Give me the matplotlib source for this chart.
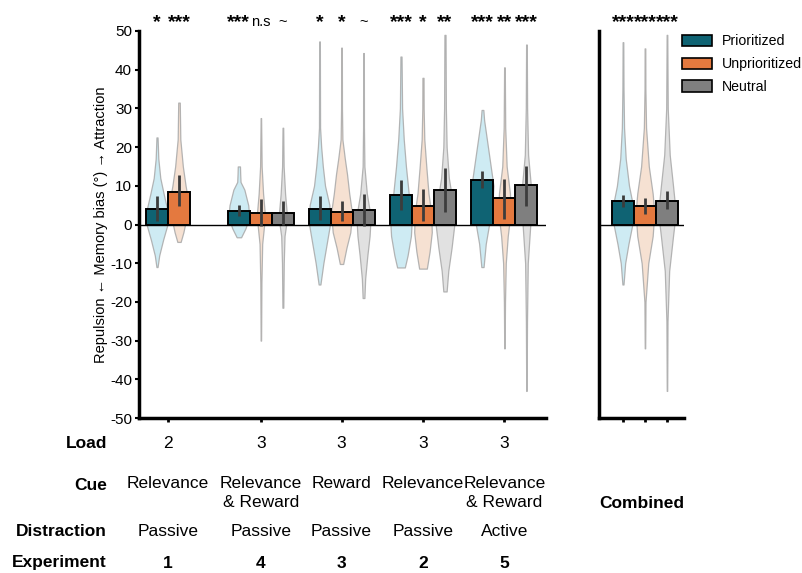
import matplotlib
matplotlib.use("Agg")
import matplotlib.pyplot as plt
import numpy as np
from matplotlib.patches import Patch
from matplotlib.transforms import blended_transform_factory

plt.rcParams['font.family'] = ['Liberation Sans', 'DejaVu Sans']

# --- data -------------------------------------------------------------------
conditions = ['Prioritized', 'Unprioritized', 'Neutral']
experiments = ['1', '4', '3', '2', '5']
loads = ['2', '3', '3', '3', '3']
cues = ['Relevance', 'Relevance\n& Reward', 'Reward', 'Relevance', 'Relevance\n& Reward']
distractions = ['Passive', 'Passive', 'Passive', 'Passive', 'Active']

# bar heights (memory bias, deg); None = condition not in that experiment
prio_mean = [4.1, 3.6, 4.0, 7.5, 11.5]
unprio_mean = [8.5, 3.0, 3.3, 4.7, 6.9]
neutral_mean = [None, 3.0, 3.8, 9.0, 10.3]

prio_ci = [(0.9, 7.4), (2.1, 5.1), (1.1, 7.3), (3.8, 11.4), (9.5, 13.8)]
unprio_ci = [(4.7, 12.8), (-0.4, 6.6), (1.0, 6.1), (0.9, 9.2), (1.5, 11.8)]
neutral_ci = [None, (-0.2, 6.2), (-0.4, 8.0), (3.2, 14.6), (4.8, 15.0)]

prio_stars = ['*', '***', '*', '***', '***']
unprio_stars = ['***', 'n.s', '*', '*', '**']
neutral_stars = [None, '~', '~', '**', '***']

# violin outlines: (bias, relative half width)
prio_violins = [
    [(-11, .05), (-8, .2), (-4, .55), (0, .95), (3, 1.0), (8, .6), (12, .3), (17, .12), (22.5, .05)],
    [(-3.3, .2), (-1, .6), (2, .95), (5, .85), (9, .5), (11, .15), (13, .12), (15, .1)],
    [(-15.5, .08), (-10, .35), (-5, .65), (0, .95), (5, .9), (10, .5), (15, .3), (20, .15), (25, .05), (47.3, .03)],
    [(-11.1, .35), (-8, .6), (-3, .9), (2, 1.0), (8, .7), (15, .45), (22, .25), (30, .1), (43.4, .05)],
    [(-11, .1), (-5, .3), (0, .6), (5, .9), (10, 1.0), (14, .8), (18, .6), (23, .35), (27, .15), (29.6, .08)],
]
unprio_violins = [
    [(-4.5, .15), (-2, .4), (2, .7), (6, .85), (10, .6), (15, .35), (22, .12), (31.5, .07)],
    [(-30, .02), (-15, .05), (-5, .12), (0, .3), (3, .35), (8, .2), (15, .07), (27.5, .02)],
    [(-10.2, .15), (-6, .45), (-2, .8), (3, .95), (8, .7), (13, .5), (17, .3), (22, .08), (30, .04), (45.7, .03)],
    [(-11.4, .35), (-7, .6), (-2, .8), (3, .75), (8, .5), (15, .3), (22, .12), (30, .06), (37.9, .05)],
    [(-32, .02), (-20, .05), (-10, .12), (-3, .3), (3, .55), (8, .5), (15, .2), (25, .07), (40.6, .03)],
]
neutral_violins = [
    None,
    [(-21.5, .04), (-10, .08), (-3, .15), (0, .3), (3, .35), (8, .2), (15, .07), (25, .03)],
    [(-19, .08), (-14, .15), (-8, .35), (-3, .55), (2, .65), (8, .3), (15, .08), (25, .04), (44.3, .03)],
    [(-17.3, .15), (-12, .3), (-6, .6), (0, .85), (5, .75), (12, .35), (20, .15), (30, .08), (49, .05)],
    [(-43, .02), (-25, .05), (-10, .12), (0, .35), (5, .45), (10, .4), (18, .15), (30, .06), (46.5, .03)],
]

combined_mean = [6.0, 4.8, 6.2]
combined_ci = [(4.5, 7.5), (2.8, 6.8), (4.1, 8.6)]
combined_stars = ['***', '***', '***']
combined_violins = [
    [(-15.5, .05), (-10, .2), (-5, .5), (0, .85), (5, .9), (10, .55), (17, .25), (25, .1), (35, .05), (47.1, .03)],
    [(-32, .02), (-20, .05), (-10, .3), (-3, .7), (3, .85), (8, .7), (15, .35), (25, .1), (35, .04), (45.5, .03)],
    [(-43, .02), (-25, .05), (-12, .2), (-3, .55), (3, .8), (10, .55), (18, .25), (30, .07), (49, .03)],
]

# --- style -------------------------------------------------------------------
bar_colors = ['#0f6373', '#e4793f', '#7f7f7f']
violin_colors = ['#c6e8f2', '#f5dcca', '#dcdcdc']
group_pos = [0, 1.14, 2.13, 3.13, 4.13]
bw = 0.27
W, H = 803, 573


def violin(ax, x, prof, color):
    ys = np.array([p[0] for p in prof])
    ws = np.array([p[1] for p in prof]) * bw / 2
    ax.fill_betweenx(ys, x - ws, x + ws, facecolor=color, edgecolor='#a8a8a8',
                     lw=0.9, alpha=0.85, zorder=1)


def bar(ax, x, m, ci, color):
    ax.bar(x, m, width=bw, color=color, edgecolor='black', lw=1.4, zorder=3)
    ax.plot([x, x], ci, color='#3c3c3c', lw=2, zorder=4, solid_capstyle='butt')


def star(ax, x, s):
    if s in ('n.s', '~'):
        ax.text(x, 51.3, s, ha='center', va='baseline', fontsize=10.5, clip_on=False)
    else:
        ax.text(x, 51.0, s, ha='center', va='baseline', fontsize=14,
                fontweight='bold', clip_on=False)


def style_axes(ax):
    ax.set_ylim(-50, 50)
    for s in ('top', 'right'):
        ax.spines[s].set_visible(False)
    for s in ('left', 'bottom'):
        ax.spines[s].set_linewidth(2.5)
    ax.axhline(0, color='black', lw=1, zorder=2)


fig = plt.figure(figsize=(W / 100, H / 100), dpi=100)
ax = fig.add_axes([139 / W, 1 - 418 / H, 407 / W, 387 / H])
ax2 = fig.add_axes([599 / W, 1 - 418 / H, 85 / W, 387 / H])

means = [prio_mean, unprio_mean, neutral_mean]
cis = [prio_ci, unprio_ci, neutral_ci]
stars = [prio_stars, unprio_stars, neutral_stars]
violins = [prio_violins, unprio_violins, neutral_violins]

for g, gx in enumerate(group_pos):
    present = [c for c in range(3) if means[c][g] is not None]
    n = len(present)
    for k, c in enumerate(present):
        x = gx + (k - (n - 1) / 2) * bw
        violin(ax, x, violins[c][g], violin_colors[c])
        bar(ax, x, means[c][g], cis[c][g], bar_colors[c])
        star(ax, x, stars[c][g])

for c in range(3):
    x = (c - 1) * bw
    violin(ax2, x, combined_violins[c], violin_colors[c])
    bar(ax2, x, combined_mean[c], combined_ci[c], bar_colors[c])
    star(ax2, x, combined_stars[c])

style_axes(ax)
ax.set_xlim(-0.356, 4.64)
yt = np.arange(-50, 51, 10)
ax.set_yticks(yt)
ax.set_yticklabels([str(v) for v in yt])
ax.tick_params(axis='y', labelsize=11, length=3, width=1.5, pad=2)
ax.set_xticks(group_pos)
ax.set_xticklabels([])
ax.tick_params(axis='x', length=3, width=2)
ax.set_ylabel('Repulsion \u2190 Memory bias (\u00b0) \u2192 Attraction', fontsize=10.5)
ax.yaxis.set_label_coords(-0.076, 0.5)

style_axes(ax2)
ax2.set_xlim(-0.564, 0.479)
ax2.set_yticks([])
ax2.set_xticks([(c - 1) * bw for c in range(3)])
ax2.set_xticklabels([])
ax2.tick_params(axis='x', length=3, width=2)

# table of experiment properties under the axes
tr = blended_transform_factory(ax.transData, fig.transFigure)
rows = [('Load', loads, 443, 'normal'), ('Cue', cues, 485, 'normal'),
        ('Distraction', distractions, 532, 'normal'), ('Experiment', experiments, 563, 'bold')]
for head, vals, ypx, wt in rows:
    fig.text(107 / W, 1 - ypx / H, head, ha='right', va='center', fontsize=12.5, fontweight='bold')
    for gx, v in zip(group_pos, vals):
        if '\n' in ''.join(vals):
            ax.text(gx, 1 - (ypx - 9) / H, v, transform=tr, ha='center', va='top',
                    fontsize=12.5, fontweight=wt, linespacing=1.35)
        else:
            ax.text(gx, 1 - ypx / H, v, transform=tr, ha='center', va='center',
                    fontsize=12.5, fontweight=wt)
fig.text(642 / W, 1 - 503 / H, 'Combined', ha='center', va='center', fontsize=12.5, fontweight='bold')

handles = [Patch(facecolor=bar_colors[i], edgecolor='black', lw=1.2, label=conditions[i]) for i in range(3)]
fig.legend(handles=handles, loc='upper left', bbox_to_anchor=(681 / W, 1 - 33 / H), frameon=False,
           fontsize=10.2, handlelength=2.1, handleheight=0.85, labelspacing=0.62, handletextpad=0.7,
           borderaxespad=0, borderpad=0.1)

fig.savefig('out.png', dpi=100, facecolor='white')
